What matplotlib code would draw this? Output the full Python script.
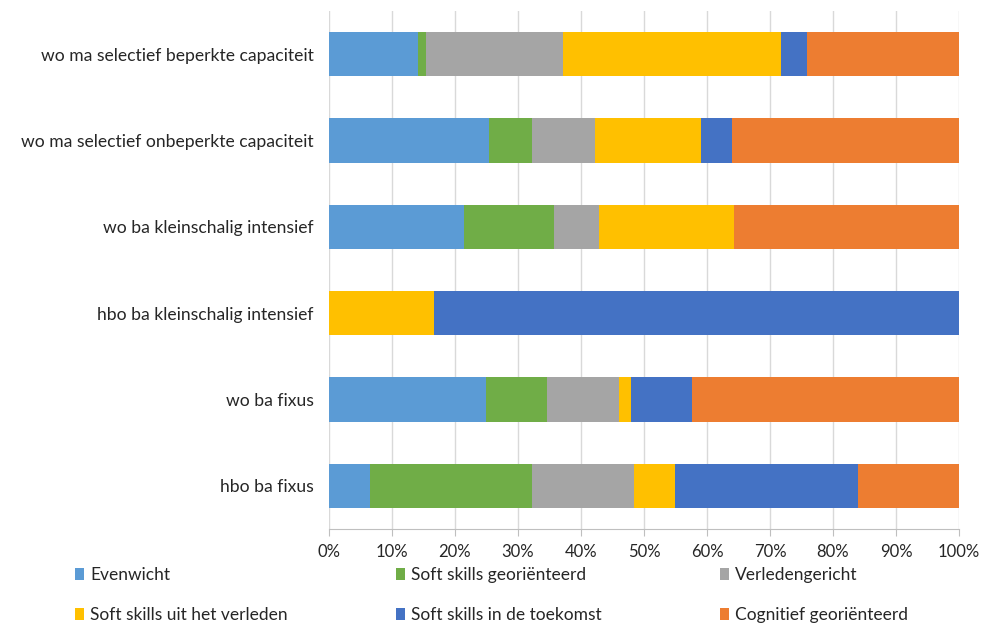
import matplotlib.pyplot as plt
import numpy as np

plt.rcParams['font.family'] = ['Lato', 'DejaVu Sans']

categories = [
    "wo ma selectief beperkte capaciteit",
    "wo ma selectief onbeperkte capaciteit",
    "wo ba kleinschalig intensief",
    "hbo ba kleinschalig intensief",
    "wo ba fixus",
    "hbo ba fixus",
]

series_names = [
    "Evenwicht",
    "Soft skills georiënteerd",
    "Verledengericht",
    "Soft skills uit het verleden",
    "Soft skills in de toekomst",
    "Cognitief georiënteerd",
]
series_colors = ["#5B9BD5", "#70AD47", "#A5A5A5", "#FFC000", "#4472C4", "#ED7D31"]

# shares in percent, one list per series, in category order (top to bottom)
evenwicht = [14.1, 25.4, 21.4, 0.0, 25.0, 6.5]
soft_georienteerd = [1.3, 6.9, 14.3, 0.0, 9.6, 25.8]
verledengericht = [21.8, 9.9, 7.1, 0.0, 11.5, 16.1]
soft_verleden = [34.6, 16.8, 21.5, 16.7, 1.9, 6.5]
soft_toekomst = [4.0, 5.0, 0.0, 83.3, 9.6, 29.0]
cognitief = [24.2, 36.0, 35.7, 0.0, 42.4, 16.1]

values = [evenwicht, soft_georienteerd, verledengericht,
          soft_verleden, soft_toekomst, cognitief]

txt_col = "#262626"

fig = plt.figure(figsize=(9.87, 6.25), dpi=100)
ax = fig.add_axes([0.3333, 0.1536, 0.6383, 0.8288])

y = np.arange(len(categories))
left = np.zeros(len(categories))
handles = []
for name, vals, col in zip(series_names, values, series_colors):
    vals = np.array(vals)
    h = ax.barh(y, vals, left=left, height=0.51, color=col, label=name, zorder=3)
    handles.append(h)
    left += vals

ax.set_xlim(0, 100)
ax.set_ylim(len(categories) - 0.5, -0.5)
ax.set_yticks(y)
ax.set_yticklabels(categories, fontsize=12.6, color=txt_col)
ax.set_xticks(np.arange(0, 101, 10))
ax.set_xticklabels([f"{t}%" for t in range(0, 101, 10)], fontsize=12, color=txt_col)

ax.grid(axis='x', color='#D9D9D9', linewidth=1, zorder=0)
for s in ['top', 'right', 'left']:
    ax.spines[s].set_visible(False)
ax.spines['bottom'].set_color('#BFBFBF')
ax.tick_params(axis='y', length=0, pad=11)
ax.tick_params(axis='x', length=5, color='#BFBFBF', pad=6)

# legend: three columns, two rows
col_x = [0.076, 0.401, 0.729]
for i, x0 in enumerate(col_x):
    hs = [handles[i], handles[i + 3]]
    labs = [series_names[i], series_names[i + 3]]
    leg = fig.legend(hs, labs, loc='upper left', bbox_to_anchor=(x0, 0.093),
                     frameon=False, fontsize=12.5, handlelength=0.52,
                     handleheight=0.7, handletextpad=0.35, labelspacing=1.38,
                     borderpad=0, borderaxespad=0)
    for t in leg.get_texts():
        t.set_color(txt_col)

fig.savefig("out.png", dpi=100)
